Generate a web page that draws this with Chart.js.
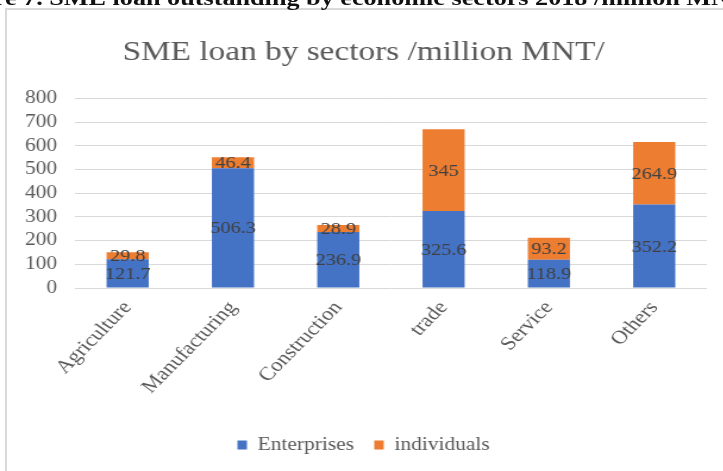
<!DOCTYPE html>
<html lang="en">
<head>
  <meta charset="UTF-8" />
  <title>SME loan by sectors</title>
  <script src="https://cdn.jsdelivr.net/npm/chart.js"></script>
  <style>
    html, body { margin: 0; padding: 0; background: #fff; overflow: hidden; }
    body { width: 723px; height: 471px; position: relative; }
    .frame {
      position: absolute;
      left: 5px;
      top: 8px;
      width: 800px;
      height: 600px;
      border: 2px solid #d9d9d9;
      box-sizing: border-box;
    }
    /* the whole figure is drawn a bit wider than tall */
    .stretch {
      position: absolute;
      left: 0;
      top: 0;
      width: 640px;
      height: 471px;
      transform: scaleX(1.19);
      transform-origin: 0 0;
    }
    .caption {
      position: absolute;
      top: -15px;
      left: -48px;
      white-space: nowrap;
      font-family: "Liberation Serif", "DejaVu Serif", serif;
      font-size: 22px;
      font-weight: bold;
      color: #111;
    }
    .chart-box {
      position: absolute;
      left: 17px;
      top: 10px;
      width: 610px;
      height: 461px;
    }
  </style>
</head>
<body>

<div class="frame"></div>
<div class="stretch">
  <div class="caption">Figure 7. SME loan outstanding by economic sectors 2018 /million MNT/</div>
  <div class="chart-box">
    <canvas id="loanChart" width="610" height="461"></canvas>
  </div>
</div>

<script>
  const sectors = ['Agriculture', 'Manufacturing', 'Construction', 'trade', 'Service', 'Others'];
  const enterprises = [121.7, 506.3, 236.9, 325.6, 118.9, 352.2];
  const individuals = [29.8, 46.4, 28.9, 345, 93.2, 264.9];
  const yTicks = [0, 100, 200, 300, 400, 500, 600, 700, 800];

  const serif = '"Liberation Serif", "Times New Roman", serif';

  // writes each segment's value in the middle of its bar piece
  const segmentLabels = {
    id: 'segmentLabels',
    afterDatasetsDraw(chart) {
      const ctx = chart.ctx;
      ctx.save();
      ctx.font = '17px ' + serif;
      ctx.fillStyle = '#404040';
      ctx.textAlign = 'center';
      ctx.textBaseline = 'middle';
      chart.data.datasets.forEach((ds, i) => {
        chart.getDatasetMeta(i).data.forEach((bar, j) => {
          const mid = (bar.y + bar.base) / 2;
          ctx.fillText(String(ds.data[j]), bar.x, mid + 1);
        });
      });
      ctx.restore();
    }
  };

  Chart.defaults.font.family = serif;
  Chart.defaults.color = '#595959';

  new Chart(document.getElementById('loanChart'), {
    type: 'bar',
    data: {
      labels: sectors,
      datasets: [
        {
          label: 'Enterprises',
          data: enterprises,
          backgroundColor: '#4472C4',
          barPercentage: 0.4,
          categoryPercentage: 1
        },
        {
          label: 'individuals',
          data: individuals,
          backgroundColor: '#ED7D31',
          barPercentage: 0.4,
          categoryPercentage: 1
        }
      ]
    },
    options: {
      responsive: false,
      animation: false,
      layout: { padding: { left: 0, right: 33, top: 0, bottom: 7 } },
      scales: {
        x: {
          stacked: true,
          grid: { display: false },
          border: { display: false },
          ticks: {
            autoSkip: false,
            minRotation: 50,
            maxRotation: 50,
            padding: 1,
            font: { size: 19 },
            color: '#595959'
          },
          afterFit(scale) { scale.height = 131; }
        },
        y: {
          stacked: true,
          min: 0,
          max: 800,
          afterBuildTicks(scale) { scale.ticks = yTicks.map(v => ({ value: v })); },
          grid: { color: '#d9d9d9', lineWidth: 1, drawTicks: false },
          border: { display: false },
          ticks: {
            autoSkip: false,
            padding: 15,
            font: { size: 18 },
            color: '#595959'
          },
          afterFit(scale) { scale.width = 46; }
        }
      },
      plugins: {
        title: {
          display: true,
          text: 'SME loan by sectors /million MNT/',
          font: { size: 28, weight: 'normal' },
          color: '#595959',
          padding: { top: 26, bottom: 29 }
        },
        legend: {
          position: 'bottom',
          labels: {
            boxWidth: 8,
            boxHeight: 9,
            font: { size: 18 },
            color: '#595959',
            padding: 17
          }
        },
        tooltip: { enabled: false }
      }
    },
    plugins: [segmentLabels]
  });
</script>

</body>
</html>
